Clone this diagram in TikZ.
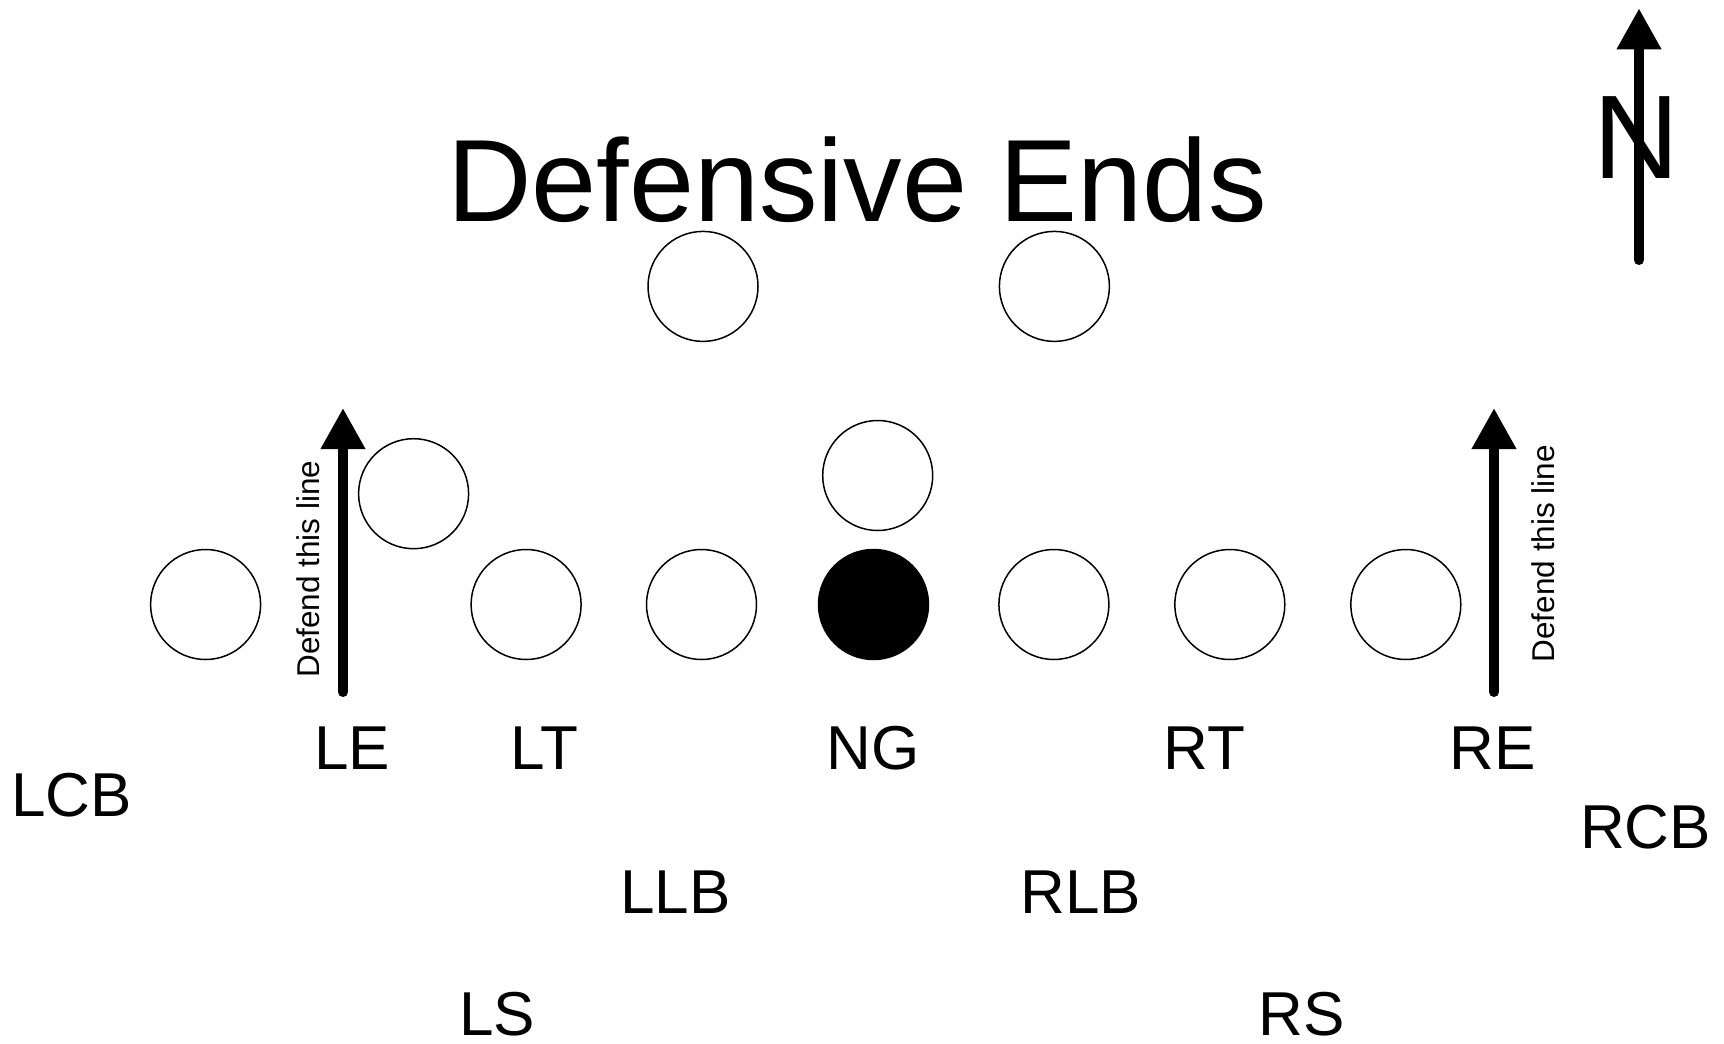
\documentclass[tikz,border=0pt]{standalone}
\usepackage{fontspec}
\setmainfont{Liberation Sans}
\usetikzlibrary{arrows.meta}

\begin{document}
\begin{tikzpicture}[x=1pt,y=-1pt,
        pl/.style={circle,draw,line width=1.5pt,fill=white,minimum size=110pt,inner sep=0pt},
        npl/.style={pl,fill=black},
        lbl/.style={font=\fontsize{62}{62}\selectfont,inner sep=0pt},
        dtxt/.style={font=\fontsize{31.5}{31.5}\selectfont,rotate=90,inner sep=0pt},
        dl/.style={line width=10pt,line cap=round,-{Triangle[width=42pt,length=41pt]}}
    ]
    \useasboundingbox (0,0) rectangle (1724,1044);
    % Title
    \node[font=\fontsize{117}{117}\selectfont,inner sep=0pt] (title) at (857,180) {Defensive Ends};
    % Players: line of scrimmage
    \foreach \x/\n in {205.6/p1,526.1/p2,701.5/p3,1053.9/p5,1229.8/p6,1405.8/p7} {
        \node[pl] (\n) at (\x,604.5) {};
    }
    \node[npl] (p4) at (873.5,604.5) {};
    % Players: off the line
    \node[pl] (le) at (413.6,493.7) {};
    \node[pl] (ng) at (877.7,475.5) {};
    \node[pl] (q1) at (703,286.4) {};
    \node[pl] (q2) at (1054.4,286.4) {};
    % Position labels
    \foreach \x/\y/\t in {71.5/795/LCB, 352/747.7/LE, 544/747.7/LT, 873/747.7/NG,
            1204.7/747.7/RT, 1492.7/747.7/RE, 1645.6/827/RCB,
            675.6/891.7/LLB, 1081/891.7/RLB, 497/1014.5/LS, 1302/1014.5/RS} {
        \node[lbl] (l\t) at (\x,\y) {\t};
    }
    % Defend lines
    \coordinate (lb) at (343,692);
    \coordinate (lt) at (343,408);
    \coordinate (rb) at (1494,692);
    \coordinate (rt) at (1494,408);
    \draw[dl] (lb) -- (lt);
    \draw[dl] (rb) -- (rt);
    \node[dtxt] (ldef) at (308,569) {Defend this line};
    \node[dtxt] (rdef) at (1543,553.7) {Defend this line};
    % North arrow
    \node[font=\fontsize{119}{119}\selectfont,inner sep=0pt] (north) at (1636.3,137.5) {N};
    \coordinate (nb) at (1639,260);
    \coordinate (nt) at (1639,8.3);
    \draw[dl] (nb) -- (nt);
\end{tikzpicture}
\end{document}
